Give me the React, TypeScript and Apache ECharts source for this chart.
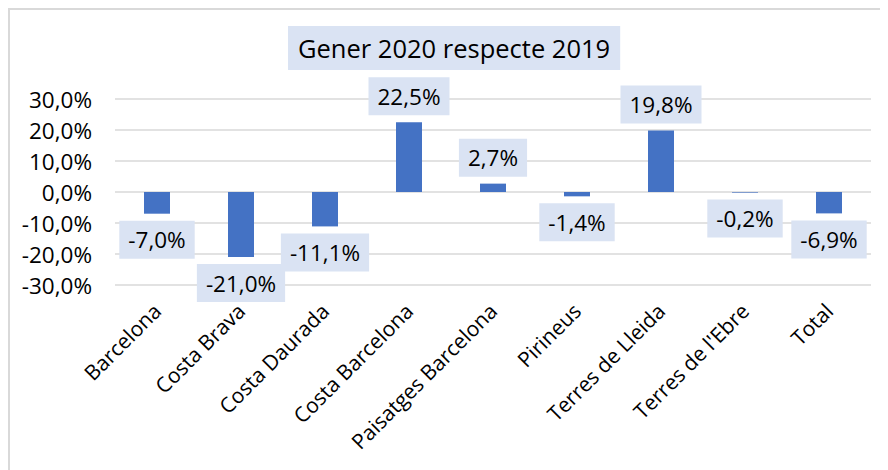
import React, { useEffect, useRef } from "react";
import * as echarts from "echarts";

const categories = [
  "Barcelona",
  "Costa Brava",
  "Costa Daurada",
  "Costa Barcelona",
  "Paisatges Barcelona",
  "Pirineus",
  "Terres de Lleida",
  "Terres de l'Ebre",
  "Total",
];
const values = [-7.0, -21.0, -11.1, 22.5, 2.7, -1.4, 19.8, -0.2, -6.9];
const titleText = "Gener 2020 respecte 2019";
const yMin = -30;
const yMax = 30;
const yStep = 10;

const FONT = "'Open Sans', 'Noto Sans', sans-serif";
const fmt = (v: number) => v.toFixed(1).replace(".", ",") + "%";

export default function App() {
  const ref = useRef<HTMLDivElement>(null);
  useEffect(() => {
    if (!ref.current) return;
    const chart = echarts.init(ref.current, undefined, { renderer: "svg" });
    chart.setOption({
      animation: false,
      textStyle: { fontFamily: FONT },
      title: {
        text: titleText,
        left: 280,
        top: 18,
        backgroundColor: "#dae3f3",
        padding: [7, 10],
        textStyle: {
          fontFamily: FONT,
          fontSize: 25.5,
          fontWeight: "normal",
          color: "#000",
          lineHeight: 30,
        },
      },
      grid: { left: 107, right: 17, top: 91, bottom: 185, containLabel: false },
      xAxis: {
        type: "category",
        data: categories,
        axisLine: { show: false, onZero: false },
        axisTick: { show: false },
        splitLine: { show: false },
        axisLabel: {
          interval: 0,
          rotate: 45,
          margin: 22,
          fontSize: 21,
          color: "#000",
          fontFamily: FONT,
        },
      },
      yAxis: {
        type: "value",
        min: yMin,
        max: yMax,
        interval: yStep,
        axisLine: { show: false },
        axisTick: { show: false },
        splitLine: { lineStyle: { color: "#d9d9d9", width: 1.5 } },
        axisLabel: {
          formatter: (v: number) => fmt(v),
          fontSize: 22.5,
          color: "#000",
          margin: 23,
          fontFamily: FONT,
        },
      },
      series: [
        {
          type: "bar",
          barWidth: 26,
          itemStyle: { color: "#4472c4" },
          data: values.map((v) => ({
            value: v,
            label: { position: v >= 0 ? "top" : "bottom" },
          })),
          label: {
            show: true,
            formatter: (p: any) => fmt(p.value),
            fontSize: 22.5,
            lineHeight: 24,
            color: "#000",
            fontFamily: FONT,
            backgroundColor: "#dae3f3",
            padding: [7, 9],
            distance: 7,
          },
        },
      ],
    });
    return () => chart.dispose();
  }, []);
  return (
    <div
      style={{
        position: "relative",
        width: 880,
        height: 462,
        borderLeft: "2px solid #d9d9d9",
        borderTop: "2px solid #d9d9d9",
        boxSizing: "border-box",
      }}
    >
      <div
        ref={ref}
        style={{ position: "absolute", left: -2, top: -2, width: 880, height: 462 }}
      />
    </div>
  );
}
